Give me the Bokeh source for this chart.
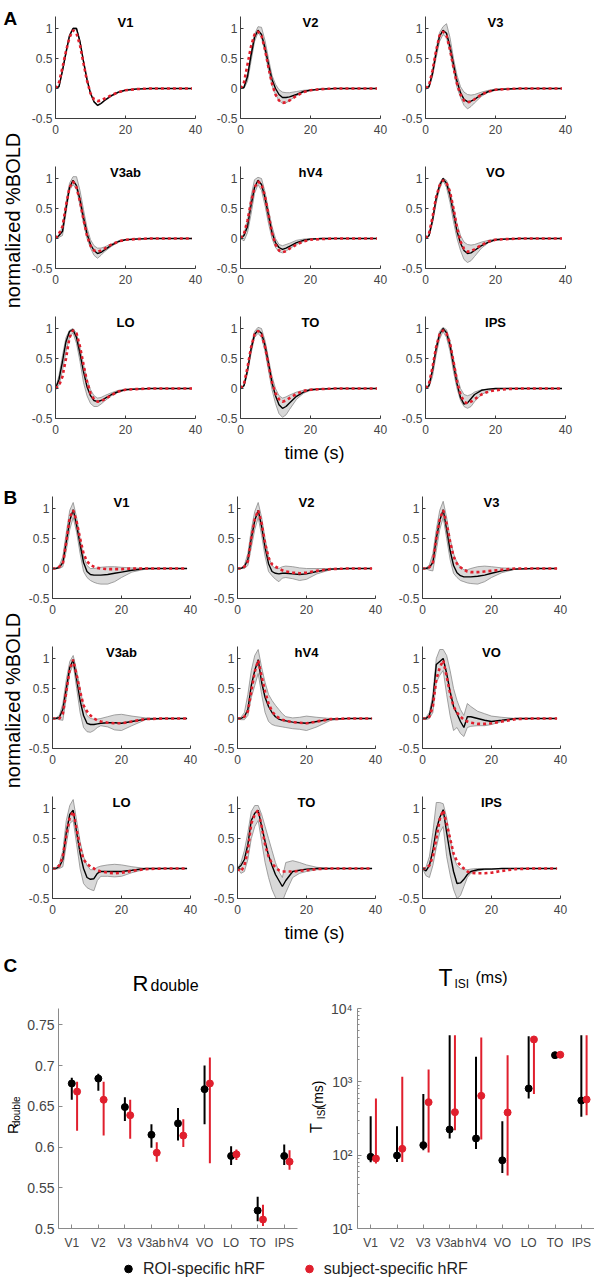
from bokeh.plotting import figure
from bokeh.layouts import row, column
from bokeh.models import (Label, Range1d, FixedTicker, NumeralTickFormatter,
                          Legend, LegendItem, ColumnDataSource)
from bokeh.transform import dodge
from bokeh.embed import file_html
from bokeh.resources import INLINE

FONT = "Liberation Sans"
RED = "#e01f2d"
BAND = "#d9d9d9"
BAND_EDGE = "#8c8c8c"
AX = "#3d3d3d"
TXT = "#454545"
CAX = "#8a8a8a"

# ---------------- data ----------------
TIME = [0, 1, 2, 3, 4, 5, 6, 7, 8, 9, 10, 11, 12, 13, 14, 16, 18, 20, 23, 27, 32, 39]
ROIS = ["V1", "V2", "V3", "V3ab", "hV4", "VO", "LO", "TO", "IPS"]
HRF_X_TICKS = [0, 20, 40]
HRF_Y_TICKS = [-0.5, 0, 0.5, 1]

# Panel A (black = ROI-specific, red = subject-specific, band lo/hi)
A_V1_ROI = [0, 0.03, 0.3, 0.6, 0.88, 1.0, 1.0, 0.78, 0.45, 0.15, -0.08, -0.22, -0.28, -0.25, -0.2, -0.12, -0.06, -0.03, -0.01, 0, 0, 0]
A_V1_SUBJ = [0, 0.1, 0.35, 0.62, 0.85, 0.97, 0.92, 0.72, 0.42, 0.13, -0.08, -0.18, -0.21, -0.2, -0.17, -0.11, -0.06, -0.03, -0.01, 0, 0, 0]
A_V1_LO = [0, 0.02, 0.28, 0.58, 0.86, 0.99, 0.99, 0.76, 0.43, 0.13, -0.09, -0.23, -0.29, -0.26, -0.21, -0.13, -0.07, -0.03, -0.01, 0, 0, 0]
A_V1_HI = [0, 0.04, 0.32, 0.62, 0.9, 1.01, 1.01, 0.8, 0.47, 0.17, -0.07, -0.21, -0.27, -0.24, -0.19, -0.11, -0.05, -0.02, 0, 0, 0, 0]

A_V2_ROI = [0, 0.02, 0.2, 0.55, 0.85, 0.97, 0.9, 0.68, 0.4, 0.15, 0.0, -0.1, -0.15, -0.15, -0.14, -0.1, -0.05, -0.03, -0.01, 0, 0, 0]
A_V2_SUBJ = [0, 0.1, 0.4, 0.7, 0.9, 0.95, 0.88, 0.65, 0.35, 0.08, -0.1, -0.2, -0.24, -0.23, -0.2, -0.12, -0.06, -0.03, -0.01, 0, 0, 0]
A_V2_LO = [0, 0, 0.12, 0.45, 0.78, 0.93, 0.85, 0.6, 0.3, 0.05, -0.1, -0.2, -0.25, -0.24, -0.2, -0.12, -0.06, -0.03, -0.01, 0, 0, 0]
A_V2_HI = [0, 0.03, 0.25, 0.6, 0.9, 1.03, 1.02, 0.8, 0.5, 0.22, 0.07, -0.02, -0.06, -0.07, -0.07, -0.05, -0.03, -0.02, -0.01, 0, 0, 0]

A_V3_ROI = [0, 0.03, 0.25, 0.58, 0.87, 0.97, 0.92, 0.7, 0.4, 0.12, -0.07, -0.18, -0.22, -0.21, -0.18, -0.1, -0.05, -0.02, -0.01, 0, 0, 0]
A_V3_SUBJ = [0, 0.05, 0.3, 0.62, 0.88, 0.95, 0.88, 0.65, 0.35, 0.08, -0.1, -0.2, -0.23, -0.22, -0.18, -0.1, -0.05, -0.02, -0.01, 0, 0, 0]
A_V3_LO = [0, 0.01, 0.2, 0.5, 0.78, 0.9, 0.85, 0.6, 0.3, 0.02, -0.15, -0.28, -0.34, -0.3, -0.24, -0.13, -0.06, -0.03, -0.01, 0, 0, 0]
A_V3_HI = [0, 0.04, 0.3, 0.65, 0.93, 1.03, 1.08, 0.85, 0.5, 0.22, 0.03, -0.06, -0.1, -0.11, -0.1, -0.06, -0.03, -0.01, 0, 0, 0, 0]

A_V3AB_ROI = [0, 0.05, 0.12, 0.5, 0.85, 0.97, 0.88, 0.65, 0.35, 0.08, -0.1, -0.2, -0.25, -0.23, -0.19, -0.11, -0.05, -0.02, -0.01, 0, 0, 0]
A_V3AB_SUBJ = [0, 0.08, 0.2, 0.55, 0.85, 0.95, 0.85, 0.62, 0.32, 0.05, -0.12, -0.2, -0.22, -0.2, -0.17, -0.1, -0.05, -0.02, -0.01, 0, 0, 0]
A_V3AB_LO = [0, 0.02, 0.05, 0.42, 0.8, 0.9, 0.82, 0.55, 0.25, 0.0, -0.16, -0.28, -0.33, -0.28, -0.22, -0.13, -0.06, -0.02, -0.01, 0, 0, 0]
A_V3AB_HI = [0, 0.06, 0.2, 0.6, 0.92, 1.03, 1.03, 0.8, 0.48, 0.18, -0.02, -0.12, -0.16, -0.16, -0.14, -0.09, -0.04, -0.02, 0, 0, 0, 0]

A_HV4_ROI = [0, 0.05, 0.2, 0.55, 0.85, 0.97, 0.9, 0.68, 0.38, 0.1, -0.07, -0.15, -0.18, -0.16, -0.13, -0.07, -0.03, -0.01, 0, 0, 0, 0]
A_HV4_SUBJ = [0, 0.08, 0.3, 0.6, 0.85, 0.95, 0.9, 0.7, 0.4, 0.1, -0.1, -0.2, -0.23, -0.21, -0.17, -0.1, -0.05, -0.02, -0.01, 0, 0, 0]
A_HV4_LO = [0, -0.04, 0.1, 0.4, 0.75, 0.9, 0.8, 0.55, 0.25, 0.0, -0.15, -0.22, -0.24, -0.21, -0.17, -0.1, -0.05, -0.02, -0.01, 0, 0, 0]
A_HV4_HI = [0, 0.08, 0.3, 0.7, 0.98, 1.02, 1.0, 0.78, 0.48, 0.2, 0.0, -0.1, -0.12, -0.1, -0.08, -0.03, -0.01, 0, 0, 0, 0, 0]

A_VO_ROI = [0, 0.05, 0.3, 0.65, 0.88, 1.0, 0.92, 0.72, 0.42, 0.12, -0.08, -0.2, -0.25, -0.24, -0.2, -0.12, -0.06, -0.02, -0.01, 0, 0, 0]
A_VO_SUBJ = [0, 0.08, 0.35, 0.68, 0.88, 0.97, 0.93, 0.78, 0.5, 0.18, -0.05, -0.17, -0.22, -0.21, -0.18, -0.11, -0.05, -0.02, -0.01, 0, 0, 0]
A_VO_LO = [0, 0.03, 0.25, 0.58, 0.82, 0.97, 0.85, 0.6, 0.28, 0.0, -0.2, -0.35, -0.4, -0.37, -0.3, -0.16, -0.07, -0.03, -0.01, 0, 0, 0]
A_VO_HI = [0, 0.06, 0.35, 0.7, 0.92, 1.01, 0.97, 0.8, 0.52, 0.25, 0.05, -0.06, -0.1, -0.11, -0.1, -0.06, -0.03, -0.01, 0, 0, 0, 0]

A_LO_ROI = [0, 0.15, 0.45, 0.78, 0.95, 0.98, 0.85, 0.58, 0.28, 0.03, -0.12, -0.2, -0.22, -0.2, -0.17, -0.1, -0.05, -0.02, -0.01, 0, 0, 0]
A_LO_SUBJ = [0, 0.05, 0.2, 0.5, 0.85, 0.97, 0.92, 0.7, 0.4, 0.12, -0.08, -0.18, -0.22, -0.21, -0.18, -0.11, -0.05, -0.02, -0.01, 0, 0, 0]
A_LO_LO = [0, 0.05, 0.3, 0.62, 0.85, 0.93, 0.75, 0.45, 0.1, -0.12, -0.25, -0.3, -0.3, -0.26, -0.21, -0.12, -0.06, -0.02, -0.01, 0, 0, 0]
A_LO_HI = [0, 0.22, 0.55, 0.85, 0.97, 1.0, 0.92, 0.68, 0.4, 0.15, -0.02, -0.12, -0.16, -0.15, -0.12, -0.07, -0.03, -0.01, 0, 0, 0, 0]

A_TO_ROI = [0, 0.05, 0.3, 0.65, 0.9, 0.97, 0.92, 0.72, 0.42, 0.1, -0.12, -0.27, -0.33, -0.3, -0.24, -0.13, -0.06, -0.02, -0.01, 0, 0, 0]
A_TO_SUBJ = [0, 0.08, 0.35, 0.68, 0.9, 0.96, 0.9, 0.7, 0.4, 0.1, -0.08, -0.18, -0.22, -0.2, -0.16, -0.09, -0.04, -0.02, -0.01, 0, 0, 0]
A_TO_LO = [0, 0.03, 0.25, 0.58, 0.85, 0.92, 0.85, 0.62, 0.3, -0.02, -0.25, -0.42, -0.48, -0.44, -0.35, -0.18, -0.08, -0.03, -0.01, 0, 0, 0]
A_TO_HI = [0, 0.06, 0.35, 0.7, 0.95, 1.02, 1.0, 0.8, 0.5, 0.2, 0.0, -0.12, -0.16, -0.14, -0.11, -0.06, -0.03, -0.01, 0, 0, 0, 0]

A_IPS_ROI = [0, 0.05, 0.3, 0.65, 0.9, 1.0, 0.93, 0.72, 0.4, 0.08, -0.15, -0.26, -0.24, -0.17, -0.1, -0.03, -0.01, 0, 0, 0, 0, 0]
A_IPS_SUBJ = [0, 0.08, 0.35, 0.68, 0.9, 0.97, 0.92, 0.75, 0.45, 0.12, -0.1, -0.22, -0.25, -0.22, -0.18, -0.1, -0.05, -0.03, -0.01, 0, 0, 0]
A_IPS_LO = [0, 0.02, 0.2, 0.55, 0.82, 0.95, 0.85, 0.62, 0.28, 0.0, -0.2, -0.3, -0.33, -0.3, -0.22, -0.1, -0.04, -0.01, 0, 0, 0, 0]
A_IPS_HI = [0, 0.06, 0.35, 0.7, 0.95, 1.02, 0.98, 0.8, 0.5, 0.2, 0.0, -0.1, -0.12, -0.1, -0.06, -0.02, -0.01, 0, 0, 0, 0, 0]

# Panel B
B_V1_ROI = [0, 0, 0.02, 0.1, 0.45, 0.8, 0.98, 0.72, 0.4, 0.1, -0.05, -0.1, -0.11, -0.11, -0.11, -0.1, -0.08, -0.06, -0.03, 0, 0, 0]
B_V1_SUBJ = [0, 0, 0.03, 0.08, 0.45, 0.85, 0.97, 0.78, 0.5, 0.25, 0.12, 0.06, 0.03, 0.01, 0, -0.01, -0.01, -0.01, 0, 0, 0, 0]
B_V1_LO = [0, 0, 0, 0.03, 0.3, 0.65, 0.85, 0.6, 0.25, -0.05, -0.15, -0.2, -0.23, -0.25, -0.26, -0.26, -0.22, -0.15, -0.06, -0.01, 0, 0]
B_V1_HI = [0, 0, 0.05, 0.2, 0.6, 0.97, 1.1, 0.85, 0.5, 0.2, 0.05, 0, 0, 0.01, 0.02, 0.03, 0.03, 0.02, 0.01, 0, 0, 0]

B_V2_ROI = [0, 0, 0.03, 0.15, 0.5, 0.8, 0.97, 0.7, 0.35, 0.08, -0.05, -0.08, -0.09, -0.08, -0.08, -0.09, -0.1, -0.09, -0.05, -0.01, 0, 0]
B_V2_SUBJ = [0, 0, 0.03, 0.12, 0.5, 0.82, 0.97, 0.75, 0.42, 0.18, 0.07, 0.03, 0.0, -0.03, -0.05, -0.07, -0.08, -0.07, -0.04, -0.01, 0, 0]
B_V2_LO = [0, 0, 0, 0.05, 0.35, 0.65, 0.85, 0.55, 0.2, -0.05, -0.12, -0.18, -0.22, -0.16, -0.15, -0.17, -0.2, -0.18, -0.09, -0.02, 0, 0]
B_V2_HI = [0, 0.01, 0.06, 0.25, 0.65, 0.95, 1.1, 0.85, 0.5, 0.2, 0.05, 0.0, 0.0, 0.03, 0.04, 0.03, 0.01, 0, 0, 0, 0, 0]

B_V3_ROI = [0, 0, 0.02, 0.1, 0.5, 0.8, 0.98, 0.65, 0.3, 0.05, -0.07, -0.12, -0.14, -0.14, -0.14, -0.13, -0.11, -0.08, -0.04, -0.01, 0, 0]
B_V3_SUBJ = [0, 0, 0.02, 0.1, 0.5, 0.82, 0.97, 0.75, 0.45, 0.2, 0.08, 0.02, -0.02, -0.05, -0.06, -0.06, -0.05, -0.04, -0.02, 0, 0, 0]
B_V3_LO = [0, 0, -0.03, -0.04, 0.3, 0.65, 0.85, 0.5, 0.15, -0.08, -0.15, -0.2, -0.22, -0.24, -0.25, -0.26, -0.22, -0.15, -0.07, -0.01, 0, 0]
B_V3_HI = [0, 0.01, 0.06, 0.25, 0.65, 0.97, 1.12, 0.85, 0.5, 0.25, 0.1, 0.02, -0.02, -0.02, 0, 0.03, 0.04, 0.03, 0.01, 0, 0, 0]

B_V3AB_ROI = [0, 0, 0.02, 0.15, 0.5, 0.85, 0.98, 0.65, 0.3, 0.05, -0.08, -0.1, -0.1, -0.09, -0.08, -0.07, -0.07, -0.08, -0.05, -0.01, 0, 0]
B_V3AB_SUBJ = [0, 0, 0.0, 0.08, 0.45, 0.82, 0.98, 0.72, 0.45, 0.22, 0.12, 0.05, 0.0, -0.03, -0.05, -0.07, -0.08, -0.08, -0.05, -0.01, 0, 0]
B_V3AB_LO = [0, 0, -0.02, -0.03, 0.35, 0.75, 0.9, 0.5, 0.1, -0.15, -0.22, -0.23, -0.2, -0.15, -0.12, -0.14, -0.19, -0.2, -0.12, -0.02, 0, 0]
B_V3AB_HI = [0, 0.01, 0.05, 0.25, 0.65, 0.95, 1.05, 0.8, 0.5, 0.2, 0.05, 0.0, -0.01, -0.01, 0.0, 0.03, 0.06, 0.07, 0.04, 0.01, 0, 0]

B_HV4_ROI = [0, 0, 0.03, 0.15, 0.55, 0.8, 0.98, 0.6, 0.35, 0.2, 0.1, 0.03, -0.01, -0.03, -0.04, -0.06, -0.07, -0.08, -0.05, -0.01, 0, 0]
B_HV4_SUBJ = [0, 0, 0.03, 0.12, 0.45, 0.78, 0.97, 0.7, 0.45, 0.25, 0.12, 0.05, 0.01, -0.02, -0.04, -0.06, -0.07, -0.08, -0.05, -0.01, 0, 0]
B_HV4_LO = [0, -0.02, -0.02, 0.05, 0.35, 0.55, 0.75, 0.4, 0.1, -0.05, -0.1, -0.12, -0.13, -0.14, -0.15, -0.17, -0.18, -0.2, -0.14, -0.03, 0, 0]
B_HV4_HI = [0, 0.02, 0.1, 0.4, 0.8, 1.05, 1.15, 0.85, 0.6, 0.4, 0.3, 0.22, 0.15, 0.08, 0.03, 0.01, 0.02, 0.04, 0.02, 0, 0, 0]

B_VO_ROI = [0, 0, 0.05, 0.3, 0.9, 0.95, 1.0, 0.75, 0.45, 0.2, 0.08, -0.05, -0.15, 0.03, 0.03, 0.0, -0.03, -0.05, -0.03, 0, 0, 0]
B_VO_SUBJ = [0, 0, 0.03, 0.2, 0.65, 0.85, 0.97, 0.7, 0.42, 0.2, 0.1, 0.03, -0.02, -0.05, -0.07, -0.09, -0.09, -0.08, -0.05, -0.01, 0, 0]
B_VO_LO = [0, -0.02, 0, 0.1, 0.6, 0.72, 0.8, 0.4, 0.05, -0.2, -0.15, -0.25, -0.3, -0.15, -0.13, -0.12, -0.12, -0.1, -0.05, -0.01, 0, 0]
B_VO_HI = [0, 0.02, 0.1, 0.4, 1.0, 1.15, 1.15, 1.05, 0.8, 0.5, 0.3, 0.15, 0.05, 0.25, 0.2, 0.12, 0.08, 0.04, 0.02, 0, 0, 0]

B_LO_ROI = [0, 0, 0.03, 0.15, 0.6, 0.9, 0.97, 0.6, 0.25, 0.0, -0.15, -0.18, -0.17, -0.08, -0.05, -0.05, -0.05, -0.05, -0.03, 0, 0, 0]
B_LO_SUBJ = [0, 0, 0.05, 0.2, 0.55, 0.85, 0.95, 0.65, 0.35, 0.15, 0.08, 0.03, 0.0, -0.03, -0.05, -0.07, -0.08, -0.07, -0.04, -0.01, 0, 0]
B_LO_LO = [0, -0.01, 0, 0.03, 0.4, 0.75, 0.8, 0.4, 0.0, -0.25, -0.32, -0.35, -0.37, -0.2, -0.13, -0.13, -0.14, -0.13, -0.07, -0.01, 0, 0]
B_LO_HI = [0, 0.01, 0.08, 0.3, 0.8, 1.05, 1.15, 0.8, 0.45, 0.2, 0.05, -0.02, -0.02, 0.02, 0.04, 0.06, 0.07, 0.06, 0.03, 0, 0, 0]

B_TO_ROI = [0, 0.05, 0.15, 0.4, 0.8, 0.92, 0.97, 0.7, 0.45, 0.22, 0.05, -0.1, -0.2, -0.3, -0.2, -0.05, -0.03, -0.01, 0, 0, 0, 0]
B_TO_SUBJ = [0, -0.05, 0.05, 0.3, 0.75, 0.9, 0.97, 0.7, 0.4, 0.2, 0.08, 0.02, -0.03, -0.05, -0.05, -0.05, -0.04, -0.03, -0.01, 0, 0, 0]
B_TO_LO = [0, -0.08, -0.05, 0.15, 0.5, 0.7, 0.8, 0.45, 0.1, -0.15, -0.35, -0.48, -0.55, -0.55, -0.4, -0.15, -0.08, -0.05, -0.02, 0, 0, 0]
B_TO_HI = [0, 0.1, 0.3, 0.6, 0.95, 1.05, 1.05, 0.9, 0.7, 0.5, 0.3, 0.1, -0.05, -0.15, 0.1, 0.13, 0.1, 0.06, 0.02, 0, 0, 0]

B_IPS_ROI = [0, -0.04, 0.05, 0.3, 0.65, 0.85, 0.98, 0.6, 0.25, -0.05, -0.25, -0.24, -0.18, -0.1, -0.05, -0.02, -0.01, -0.01, 0, 0, 0, 0]
B_IPS_SUBJ = [0, 0, 0.05, 0.2, 0.5, 0.82, 0.97, 0.75, 0.5, 0.25, 0.12, 0.05, 0.0, -0.05, -0.07, -0.08, -0.08, -0.07, -0.04, -0.01, 0, 0]
B_IPS_LO = [0, -0.12, -0.15, 0.05, 0.35, 0.6, 0.7, 0.2, -0.1, -0.35, -0.5, -0.45, -0.3, -0.15, -0.08, -0.04, -0.02, -0.01, 0, 0, 0, 0]
B_IPS_HI = [0, 0.02, 0.2, 0.6, 1.1, 1.1, 1.08, 0.85, 0.5, 0.2, 0.05, 0.0, -0.02, -0.02, -0.01, 0, 0, 0, 0, 0, 0, 0]

# Panel C
R_ROI = [0.678, 0.684, 0.649, 0.615, 0.629, 0.671, 0.589, 0.522, 0.589]
R_ROI_LO = [0.658, 0.669, 0.632, 0.599, 0.608, 0.628, 0.578, 0.509, 0.578]
R_ROI_HI = [0.685, 0.690, 0.661, 0.628, 0.648, 0.700, 0.601, 0.539, 0.603]
R_SUBJ = [0.668, 0.658, 0.639, 0.593, 0.614, 0.678, 0.591, 0.511, 0.582]
R_SUBJ_LO = [0.620, 0.614, 0.610, 0.582, 0.600, 0.580, 0.584, 0.503, 0.572]
R_SUBJ_HI = [0.680, 0.680, 0.658, 0.606, 0.634, 0.710, 0.597, 0.529, 0.596]

T_ROI = [95, 99, 137, 224, 169, 85, 811, 2310, 556]
T_ROI_LO = [80, 81, 117, 169, 121, 57, 593, 2310, 333]
T_ROI_HI = [340, 248, 680, 4330, 2190, 291, 4200, 2310, 4330]
T_SUBJ = [90, 122, 528, 386, 645, 382, 3780, 2340, 574]
T_SUBJ_LO = [77, 81, 109, 219, 164, 53, 680, 2340, 351]
T_SUBJ_HI = [593, 1170, 1473, 4330, 4025, 2310, 3950, 2340, 4330]

R_Y_TICKS = [0.5, 0.55, 0.6, 0.65, 0.7, 0.75]
T_Y_TICKS = [10, 100, 1000, 10000]
T_Y_LABELS = {10: "10\u00b9", 100: "10\u00b2", 1000: "10\u00b3", 10000: "10\u2074"}
T_MINOR = [m * d for d in (10, 100, 1000) for m in range(2, 10)]
LEGEND_LABELS = ["ROI-specific hRF", "subject-specific hRF"]

A_SETS = [
    (A_V1_ROI, A_V1_SUBJ, A_V1_LO, A_V1_HI), (A_V2_ROI, A_V2_SUBJ, A_V2_LO, A_V2_HI),
    (A_V3_ROI, A_V3_SUBJ, A_V3_LO, A_V3_HI), (A_V3AB_ROI, A_V3AB_SUBJ, A_V3AB_LO, A_V3AB_HI),
    (A_HV4_ROI, A_HV4_SUBJ, A_HV4_LO, A_HV4_HI), (A_VO_ROI, A_VO_SUBJ, A_VO_LO, A_VO_HI),
    (A_LO_ROI, A_LO_SUBJ, A_LO_LO, A_LO_HI), (A_TO_ROI, A_TO_SUBJ, A_TO_LO, A_TO_HI),
    (A_IPS_ROI, A_IPS_SUBJ, A_IPS_LO, A_IPS_HI)]
B_SETS = [
    (B_V1_ROI, B_V1_SUBJ, B_V1_LO, B_V1_HI), (B_V2_ROI, B_V2_SUBJ, B_V2_LO, B_V2_HI),
    (B_V3_ROI, B_V3_SUBJ, B_V3_LO, B_V3_HI), (B_V3AB_ROI, B_V3AB_SUBJ, B_V3AB_LO, B_V3AB_HI),
    (B_HV4_ROI, B_HV4_SUBJ, B_HV4_LO, B_HV4_HI), (B_VO_ROI, B_VO_SUBJ, B_VO_LO, B_VO_HI),
    (B_LO_ROI, B_LO_SUBJ, B_LO_LO, B_LO_HI), (B_TO_ROI, B_TO_SUBJ, B_TO_LO, B_TO_HI),
    (B_IPS_ROI, B_IPS_SUBJ, B_IPS_LO, B_IPS_HI)]


# ---------------- helpers ----------------
def base_fig(**kw):
    p = figure(output_backend="svg", toolbar_location=None, **kw)
    p.outline_line_color = None
    p.background_fill_color = "white"
    p.border_fill_color = "white"
    return p


def text_fig(w, h):
    # blank canvas whose data units are pixels (y upwards), used for free text
    return base_fig(width=w, height=h, x_range=Range1d(0, w), y_range=Range1d(0, h),
                    min_border=0, x_axis_type=None, y_axis_type=None)


def style_axis(ax, color, label_color, size, standoff, tick_in=3):
    ax.axis_line_color = color
    ax.axis_line_width = 1
    ax.major_tick_line_color = color
    ax.major_tick_in = tick_in
    ax.major_tick_out = 0
    ax.minor_tick_line_color = None
    ax.major_label_text_font = FONT
    ax.major_label_text_font_size = size
    ax.major_label_text_color = label_color
    ax.major_label_standoff = standoff


def txt(**kw):
    kw.setdefault("text_font", FONT)
    kw.setdefault("text_color", "black")
    kw.setdefault("text_align", "left")
    kw.setdefault("text_baseline", "alphabetic")
    return Label(**kw)


def vtxt(x, y, text, size):
    # vertical (bottom-to-top) text, centred on (x, y)
    return txt(x=x, y=y, text=text, angle=90, angle_units="deg", text_align="center",
               text_baseline="middle", text_font_size=size)


def hrf_panel(title, data, left, fw, right, bottom):
    roi, subj, lo, hi = data
    p = base_fig(width=left + fw + right, height=16 + 102 + bottom,
                 x_range=Range1d(0, 40), y_range=Range1d(-0.5, 1.2),
                 min_border_left=left, min_border_right=right,
                 min_border_top=16, min_border_bottom=bottom)
    p.grid.visible = False
    p.xaxis.ticker = FixedTicker(ticks=HRF_X_TICKS)
    p.yaxis.ticker = FixedTicker(ticks=HRF_Y_TICKS)
    p.yaxis.formatter = NumeralTickFormatter(format="0.[0]")
    style_axis(p.xaxis[0], AX, TXT, "12px", 6)
    style_axis(p.yaxis[0], AX, TXT, "12px", 3)
    p.varea(x=TIME, y1=lo, y2=hi, fill_color=BAND)
    p.line(x=TIME, y=lo, line_color=BAND_EDGE, line_width=0.8)
    p.line(x=TIME, y=hi, line_color=BAND_EDGE, line_width=0.8)
    p.line(x=TIME, y=roi, line_color="black", line_width=1.4)
    p.line(x=TIME, y=subj, line_color=RED, line_width=2.6, line_dash="3 3")
    p.add_layout(txt(x=20, y=1.1, text=title, text_align="center",
                     text_baseline="middle", text_font_size="13px",
                     text_font_style="bold"))
    return p


SIDE_W = 24
BLOCK_H = 150 + 150 + 140


def hrf_block(sets, left, fw, right, letter, letter_top):
    rows = []
    for r in range(3):
        figs = [hrf_panel(ROIS[r * 3 + c], sets[r * 3 + c], left, fw, right,
                          22 if r == 2 else 32) for c in range(3)]
        rows.append(row(figs, spacing=0))
    side = text_fig(SIDE_W, BLOCK_H)
    side.add_layout(txt(x=3, y=BLOCK_H - letter_top, text=letter, text_baseline="top",
                        text_font_size="19px", text_font_style="bold"))
    side.add_layout(vtxt(12.5, BLOCK_H - 220, "normalized %BOLD", "20px"))
    return row([side, column(rows, spacing=0)], spacing=0)


def time_fig(h, y):
    p = text_fig(579, h)
    p.add_layout(txt(x=314, y=y, text="time (s)", text_align="center",
                     text_baseline="middle", text_font_size="18px"))
    return p


panelA = hrf_block(A_SETS, 31, 140, 14, "A", 7)     # page y 0..440
timeA = time_fig(40, 28)                            # page y 440..480
panelB = hrf_block(B_SETS, 28, 138, 19, "B", 6)     # page y 480..920
timeB = time_fig(30, 18)                            # page y 920..950

# ---------------- panel C ----------------
XPOS = list(range(1, len(ROIS) + 1))
XLABELS = {i + 1: name for i, name in enumerate(ROIS)}

src_r = ColumnDataSource(dict(x=XPOS, roi=R_ROI, roi_lo=R_ROI_LO, roi_hi=R_ROI_HI,
                              subj=R_SUBJ, subj_lo=R_SUBJ_LO, subj_hi=R_SUBJ_HI))
src_t = ColumnDataSource(dict(x=XPOS, roi=T_ROI, roi_lo=T_ROI_LO, roi_hi=T_ROI_HI,
                              subj=T_SUBJ, subj_lo=T_SUBJ_LO, subj_hi=T_SUBJ_HI))


def errors(p, src):
    xr = dodge("x", 0.2, range=p.x_range)
    p.segment(x0="x", y0="roi_lo", x1="x", y1="roi_hi", source=src,
              line_color="black", line_width=2)
    p.segment(x0=xr, y0="subj_lo", x1=xr, y1="subj_hi", source=src,
              line_color=RED, line_width=2)
    p.scatter(x="x", y="roi", source=src, size=7, color="black")
    p.scatter(x=xr, y="subj", source=src, size=7, color=RED)


def style_c(p, ysize, ystandoff):
    p.grid.visible = False
    p.xaxis.ticker = FixedTicker(ticks=XPOS)
    p.xaxis.major_label_overrides = XLABELS
    style_axis(p.xaxis[0], CAX, TXT, "12px", 7, tick_in=4)
    style_axis(p.yaxis[0], CAX, TXT, ysize, ystandoff, tick_in=4)


C_H = 10 + 220 + 31                                  # page y 998..1259

titleC = text_fig(594, 48)                           # page y 950..998
titleC.add_layout(txt(x=3, y=33, text="C", text_baseline="middle",
                      text_font_size="19px", text_font_style="bold"))
titleC.add_layout(txt(x=148, y=15, text="R", text_align="right", text_font_size="22px"))
titleC.add_layout(txt(x=150, y=13, text="double", text_font_size="16px"))
titleC.add_layout(txt(x=438, y=21, text="T", text_font_size="23px"))
titleC.add_layout(txt(x=454, y=15, text="ISI", text_font_size="12px"))
titleC.add_layout(txt(x=475, y=21, text="(ms)", text_font_size="16px"))

ylab1 = text_fig(24, C_H)                            # page x 0..24
ylab1.add_layout(vtxt(12, 118.5, "R", "15px"))
ylab1.add_layout(vtxt(16, 139, "double", "10px"))

pc1 = base_fig(width=33 + 240 + 3, height=C_H, x_range=Range1d(0.5, 9.5),
               y_range=Range1d(0.5, 0.77), min_border_left=33, min_border_right=3,
               min_border_top=10, min_border_bottom=31)
style_c(pc1, "14px", 4)
pc1.yaxis.ticker = FixedTicker(ticks=R_Y_TICKS)
pc1.yaxis.formatter = NumeralTickFormatter(format="0.[00]")
errors(pc1, src_r)

ylab2 = text_fig(27, C_H)                            # page x 300..327
ylab2.add_layout(vtxt(16, 119, "T", "16px"))
ylab2.add_layout(vtxt(21, 137, "ISI", "10px"))
ylab2.add_layout(vtxt(17, 159, "(ms)", "14px"))

pc2 = base_fig(width=27 + 240, height=C_H, x_range=Range1d(0.5, 9.5),
               y_range=Range1d(10, 10000), y_axis_type="log",
               min_border_left=27, min_border_right=0,
               min_border_top=10, min_border_bottom=31)
style_c(pc2, "14px", 5)
pc2.yaxis.ticker = FixedTicker(ticks=T_Y_TICKS, minor_ticks=T_MINOR)
pc2.yaxis.major_label_overrides = T_Y_LABELS
pc2.yaxis.minor_tick_line_color = CAX
pc2.yaxis.minor_tick_in = 2
pc2.yaxis.minor_tick_out = 0
errors(pc2, src_t)

rowC = row([ylab1, pc1, ylab2, pc2], spacing=0)

# ---------------- legend ----------------
pl = base_fig(width=594, height=19, x_range=Range1d(0, 1), y_range=Range1d(0, 1),
              min_border=0, x_axis_type=None, y_axis_type=None)
r_black = pl.scatter(x=[0], y=[0], size=9, color="black", visible=False)
r_red = pl.scatter(x=[0], y=[0], size=9, color=RED, visible=False)
leg = Legend(items=[LegendItem(label=LEGEND_LABELS[0], renderers=[r_black]),
                    LegendItem(label=LEGEND_LABELS[1], renderers=[r_red])],
             orientation="horizontal", location=(118, 0), padding=0, margin=0,
             spacing=34, label_standoff=5, glyph_width=20, glyph_height=19,
             label_height=19, border_line_color=None, background_fill_alpha=0,
             inactive_fill_alpha=0, click_policy="none",
             label_text_font=FONT, label_text_font_size="16px",
             label_text_color="#222222")
pl.add_layout(leg)

root = column([panelA, timeA, panelB, timeB, titleC, rowC, pl], spacing=0)

with open("out.html", "w") as f:
    f.write(file_html(root, INLINE))
